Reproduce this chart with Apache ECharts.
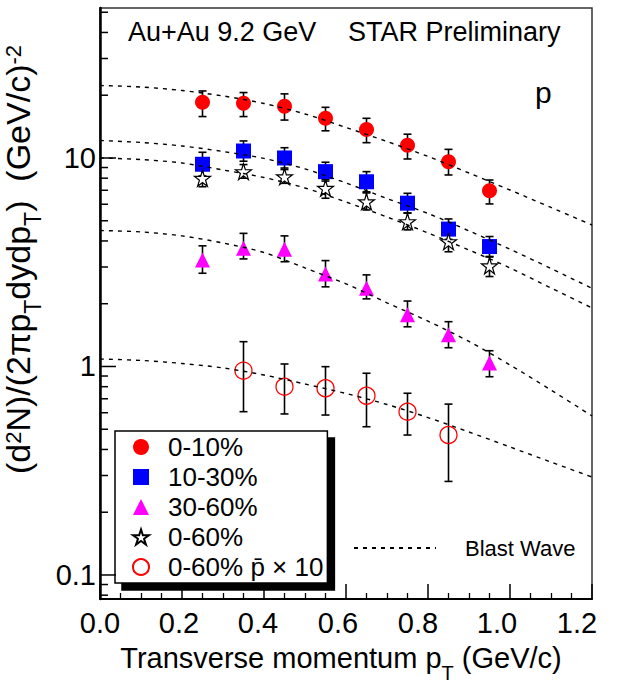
<!DOCTYPE html>
<html><head><meta charset="utf-8">
<script src="https://cdn.jsdelivr.net/npm/echarts@6/dist/echarts.min.js"></script>
<style>html,body{margin:0;padding:0;background:#fff}#c{width:623px;height:684px}</style>
</head><body><div id="c"></div>
<script>
// ---- data ----
const ptBins = [0.25, 0.35, 0.45, 0.55, 0.65, 0.75, 0.85, 0.95];
const c0_10   = [18.5, 18.3, 17.7, 15.5, 13.7, 11.5, 9.6, 6.97];
const c0_10Lo = [15.8, 15.8, 15.2, 13.5, 11.84, 9.89, 8.29, 6.02];
const c0_10Hi = [20.96, 20.6, 20.3, 17.5, 15.5, 13.0, 11.0, 7.84];
const c10_30   = [9.33, 10.8, 10.0, 8.6, 7.69, 6.07, 4.56, 3.76];
const c10_30Lo = [8.2, 9.65, 8.95, 7.75, 6.88, 5.44, 4.07, 3.37];
const c10_30Hi = [10.65, 12.07, 11.2, 9.54, 8.6, 6.77, 5.10, 4.2];
const c30_60   = [3.24, 3.69, 3.65, 2.78, 2.37, 1.77, 1.42, 1.04];
const c30_60Lo = [2.80, 3.28, 3.18, 2.41, 2.11, 1.55, 1.23, 0.893];
const c30_60Hi = [3.79, 4.35, 4.23, 3.22, 2.75, 2.06, 1.64, 1.19];
const c0_60   = [7.99, 8.6, 8.13, 7.16, 6.17, 4.95, 3.97, 3.04];
const c0_60Lo = [7.28, 8.0, 7.56, 6.41, 5.63, 4.52, 3.55, 2.70];
const c0_60Hi = [8.75, 9.3, 8.8, 7.9, 6.8, 5.45, 4.4, 3.35];
const pbarBins = [0.35, 0.45, 0.55, 0.65, 0.75, 0.85];
const pbar   = [0.955, 0.80, 0.786, 0.724, 0.607, 0.469];
const pbarLo = [0.607, 0.592, 0.585, 0.514, 0.469, 0.281];
const pbarHi = [1.315, 1.028, 0.998, 0.928, 0.744, 0.66];
// Blast-wave curves read at these pT values
const bwPt = [0, 0.1, 0.2, 0.3, 0.4, 0.5, 0.6, 0.7, 0.8, 0.9, 1.0, 1.1, 1.2];
const bw0_10  = [22.27, 21.90, 21.07, 19.84, 18.25, 16.26, 14.01, 12.00, 10.17, 8.47, 7.02, 5.79, 4.77];
const bw10_30 = [12.13, 11.87, 11.42, 10.74, 9.95, 8.86, 7.59, 6.39, 5.42, 4.47, 3.65, 2.95, 2.37];
const bw0_60  = [10.0, 9.83, 9.46, 8.76, 8.06, 7.18, 6.15, 5.21, 4.37, 3.62, 2.97, 2.38, 1.91];
const bw30_60 = [4.49, 4.42, 4.23, 3.91, 3.52, 2.97, 2.49, 2.02, 1.65, 1.318, 1.017, 0.771, 0.579];
const bwPbar  = [1.086, 1.069, 1.034, 0.984, 0.910, 0.824, 0.742, 0.657, 0.569, 0.485, 0.411, 0.348, 0.295];
// axis ticks
const yMajorTicks = [0.1, 1, 10];
const yMajorLabels = ['0.1', '1', '10'];
const yMinorTicks = [0.08, 0.09, 0.2, 0.3, 0.4, 0.5, 0.6, 0.7, 0.8, 0.9, 2, 3, 4, 5, 6, 7, 8, 9, 20, 30, 40, 50];
const seriesNames = ['0-10%', '10-30%', '30-60%', '0-60%', '0-60% p\u0304 \u00d7 10'];

// ---- helpers ----
const FONT = 'Liberation Sans, Arial, Helvetica, sans-serif';
const pts = (xs, ys) => xs.map((x, i) => [x, ys[i]]);
const errs = (xs, lo, hi) => xs.map((x, i) => [x, lo[i], hi[i]]);
function errRender(params, api) {
  const x = api.value(0), lo = api.value(1), hi = api.value(2);
  const a = api.coord([x, lo]), b = api.coord([x, hi]);
  const c = 4, st = {stroke: '#000', lineWidth: 1.6};
  return {type: 'group', children: [
    {type: 'line', shape: {x1: a[0], y1: a[1], x2: b[0], y2: b[1]}, style: st},
    {type: 'line', shape: {x1: a[0] - c, y1: a[1], x2: a[0] + c, y2: a[1]}, style: st},
    {type: 'line', shape: {x1: b[0] - c, y1: b[1], x2: b[0] + c, y2: b[1]}, style: st}
  ]};
}
function yTickRender(params, api) {
  const v = api.value(1), major = api.value(2);
  const p = api.coord([0, v]);
  const len = major ? 16 : 8;
  return {type: 'line', shape: {x1: p[0], y1: p[1], x2: p[0] + len, y2: p[1]},
          style: {stroke: '#000', lineWidth: 1.5}};
}
const errSeries = (xs, lo, hi) => ({type: 'custom', renderItem: errRender, data: errs(xs, lo, hi),
  encode: {x: 0, y: [1, 2]}, z: 2, silent: true});
const bwSeries = (ys) => ({name: 'Blast Wave', type: 'line', data: pts(bwPt, ys), smooth: 0.3,
  symbol: 'none', showSymbol: false, z: 5, silent: true,
  lineStyle: {color: '#000', width: 1.4, type: [4, 5]}});
const STAR = 'path://M50,0 L61.2,34.5 L97.6,34.5 L68.2,55.9 L79.4,90.5 L50,69.1 L20.6,90.5 L31.8,55.9 L2.4,34.5 L38.8,34.5 Z';

const yTickData = yMajorTicks.map(v => [0, v, 1]).concat(yMinorTicks.map(v => [0, v, 0]));

// rich text styles for axis titles
const mk = (L, fs, center) => ({fontSize: fs, fontFamily: FONT, color: '#000',
  padding: [center - fs / 2, 0, L - center - fs / 2, 0]});
const xRich = {m: mk(47, 29, 22), s: mk(47, 20, 37)};
const yRich = {m: mk(51, 34, 24), s: mk(51, 23, 39), u: mk(51, 22, 19)};

const xShift = {0: 0, 2: 6, 4: 12, 6: 16, 8: 20, 10: 26, 12: 30};
const xLabRich = {};
Object.keys(xShift).forEach(k => { xLabRich['t' + k] = {fontSize: 29, fontFamily: FONT, color: '#000', padding: [0, xShift[k], 0, 0]}; });

const chart = echarts.init(document.getElementById('c'), null, {renderer: 'svg'});
chart.setOption({
  animation: false,
  backgroundColor: '#fff',
  textStyle: {fontFamily: FONT},
  title: [
    {text: 'Au+Au 9.2 GeV', left: 128, top: 18, padding: 0,
     textStyle: {fontSize: 27, fontWeight: 'normal', color: '#000', fontFamily: FONT}},
    {text: 'STAR Preliminary', left: 348, top: 18, padding: 0,
     textStyle: {fontSize: 27, fontWeight: 'normal', color: '#000', fontFamily: FONT}},
    {text: 'p', left: 535, top: 77, padding: 0,
     textStyle: {fontSize: 30, fontWeight: 'normal', color: '#000', fontFamily: FONT}}
  ],
  grid: {left: 100, right: 31, top: 8, bottom: 85, show: true, borderColor: '#333', borderWidth: 1.5,
         backgroundColor: 'transparent', containLabel: false, outerBoundsMode: 'none'},
  legend: [
    {data: seriesNames, orient: 'vertical', left: 115, top: 431, padding: [3, 4, 3, 17],
     itemWidth: 16, itemHeight: 16, itemGap: 4, selectedMode: false,
     backgroundColor: '#fff', borderColor: '#000', borderWidth: 1.5, borderRadius: 0,
     shadowColor: '#000', shadowBlur: 0, shadowOffsetX: 7, shadowOffsetY: 7,
     textStyle: {fontSize: 26, color: '#000', fontFamily: FONT, padding: [0, 0, 0, 14]}},
    {data: ['Blast Wave'], orient: 'vertical', left: 353, top: 537, padding: 0,
     itemWidth: 82, itemHeight: 14, selectedMode: false,
     itemStyle: {opacity: 0},
     textStyle: {fontSize: 22, color: '#000', fontFamily: FONT, padding: [0, 0, 0, 24]}}
  ],
  xAxis: {
    type: 'value', min: 0, max: 1.2, interval: 0.2,
    name: '{m|Transverse momentum p}{s|T}{m| (GeV/c)}', nameLocation: 'middle', nameGap: 37,
    nameTextStyle: {rich: xRich, padding: [0, 10, 0, 0]},
    axisLine: {lineStyle: {color: '#000', width: 2}},
    axisTick: {inside: true, length: 15, lineStyle: {color: '#000', width: 1.5}},
    minorTick: {show: true, splitNumber: 4, length: 6, lineStyle: {color: '#000', width: 1.3}},
    splitLine: {show: false}, minorSplitLine: {show: false},
    axisLabel: {margin: 9, formatter: v => '{t' + Math.round(v * 10) + '|' + v.toFixed(1) + '}', rich: xLabRich,
                fontSize: 29, color: '#000', fontFamily: FONT}
  },
  yAxis: {
    type: 'log', logBase: 10, min: 0.0767, max: 52.4,
    name: '{m|(d}{u|2}{m|N)/(2πp}{s|T}{m|dydp}{s|T}{m|)  (GeV/c)}{u|-2}',
    nameLocation: 'middle', nameRotate: 90, nameGap: 37,
    nameTextStyle: {rich: yRich, padding: [0, 0, 0, 88]},
    axisLine: {show: true, lineStyle: {color: '#000', width: 2.5}},
    axisTick: {show: false}, minorTick: {show: false},
    splitLine: {show: false}, minorSplitLine: {show: false},
    axisLabel: {margin: 4, fontSize: 29, color: '#000', fontFamily: FONT,
      formatter: v => { const i = yMajorTicks.findIndex(t => Math.abs(Math.log10(v) - Math.log10(t)) < 1e-6); return i >= 0 ? yMajorLabels[i] : ''; }}
  },
  series: [
    {type: 'custom', renderItem: yTickRender, data: yTickData, encode: {x: 0, y: 1}, z: 6, silent: true},
    errSeries(ptBins, c0_10Lo, c0_10Hi),
    errSeries(ptBins, c10_30Lo, c10_30Hi),
    errSeries(ptBins, c30_60Lo, c30_60Hi),
    errSeries(ptBins, c0_60Lo, c0_60Hi),
    errSeries(pbarBins, pbarLo, pbarHi),
    {name: seriesNames[0], type: 'scatter', data: pts(ptBins, c0_10), symbol: 'circle', symbolSize: 15, z: 3,
     itemStyle: {color: '#ff0000', opacity: 1}},
    {name: seriesNames[1], type: 'scatter', data: pts(ptBins, c10_30), symbol: 'rect', symbolSize: 15, z: 3,
     itemStyle: {color: '#0000ff', opacity: 1}},
    {name: seriesNames[2], type: 'scatter', data: pts(ptBins, c30_60), symbol: 'triangle', symbolSize: 15, z: 3,
     itemStyle: {color: '#ff00ff', opacity: 1}},
    {name: seriesNames[3], type: 'scatter', data: pts(ptBins, c0_60), symbol: STAR, symbolSize: 16, z: 3,
     itemStyle: {color: '#fff', borderColor: '#000', borderWidth: 1.2, opacity: 1}},
    {name: seriesNames[4], type: 'scatter', data: pts(pbarBins, pbar), symbol: 'circle', symbolSize: 17, z: 3,
     itemStyle: {color: 'rgba(255,255,255,0)', borderColor: '#ff0000', borderWidth: 1.3, opacity: 1}},
    bwSeries(bw0_10), bwSeries(bw10_30), bwSeries(bw0_60), bwSeries(bw30_60), bwSeries(bwPbar)
  ]
});
</script></body></html>
